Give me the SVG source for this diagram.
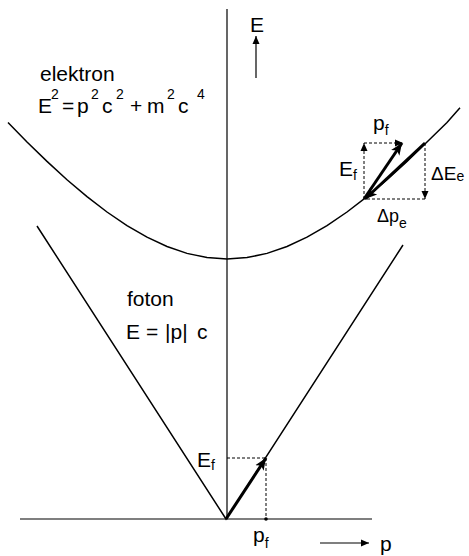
<svg xmlns="http://www.w3.org/2000/svg" width="469" height="556" viewBox="0 0 469 556">
<style>
text{font-family:"Liberation Sans",Arial,sans-serif;fill:#000}
.t{font-size:21px}
.s{font-size:14px}
.ax{stroke:#000;stroke-width:1.2;fill:none}
.cv{stroke:#000;stroke-width:1.5;fill:none}
.th{stroke:#000;stroke-width:3;fill:none}
.dt{stroke:#000;stroke-width:1;fill:none;stroke-dasharray:3 2}
</style>
<defs>
<marker id="ah" markerUnits="userSpaceOnUse" markerWidth="14" markerHeight="12" refX="12" refY="6" orient="auto">
<path d="M0,1 L12,6 L0,11 L3,6 Z" fill="#000"/>
</marker>
<marker id="as" markerUnits="userSpaceOnUse" markerWidth="10" markerHeight="8" refX="8" refY="4" orient="auto">
<path d="M0,0.5 L8,4 L0,7.5 Z" fill="#000"/>
</marker>
</defs>
<g id="axes">
<line class="ax" x1="227" y1="9" x2="227" y2="519"/>
<line class="ax" x1="20" y1="519" x2="372" y2="519"/>
<line class="ax" x1="256" y1="78" x2="256" y2="36" marker-end="url(#as)"/>
<line class="ax" x1="320" y1="543" x2="369" y2="543" marker-end="url(#as)"/>
<text id="lblE" class="t" x="250" y="32">E</text>
<text id="lblp" class="t" x="380" y="551">p</text>
</g>
<g id="electron">
<path class="cv" d="M8,122.6 L27,142 L47,161.4 L67,179.7 L87,196.6 L107,212 L127,225.6 L147,237.2 L167,246.5 L187,253.4 L207,257.6 L227,259 L247,257.6 L267,253.4 L287,246.5 L307,237.2 L327,225.6 L347,212 L367,196.6 L387,179.7 L407,161.4 L427,142 L447,122.6 L460,107.8"/>
<text class="t" x="40" y="81">elektron</text>
<text class="t" y="113"><tspan x="38">E</tspan><tspan class="s" x="51" y="99">2</tspan><tspan x="62" y="113">=</tspan><tspan x="77">p</tspan><tspan class="s" x="91" y="99">2</tspan><tspan x="102" y="113">c</tspan><tspan class="s" x="116" y="99">2</tspan><tspan x="130" y="113">+</tspan><tspan x="147">m</tspan><tspan class="s" x="167" y="99">2</tspan><tspan x="178" y="113">c</tspan><tspan class="s" x="197" y="99">4</tspan></text>
</g>
<g id="photon">
<polyline class="cv" points="37,226 226,519 403,245"/>
<text class="t" x="127" y="306">foton</text>
<text class="t" y="339"><tspan x="126">E</tspan><tspan x="146">=</tspan><tspan x="165">|p|</tspan><tspan x="197">c</tspan></text>
</g>
<g id="connectors">
<line class="th" x1="226" y1="519" x2="266" y2="458" marker-end="url(#ah)"/>
<line class="dt" x1="227" y1="458" x2="266" y2="458"/>
<line class="dt" x1="266" y1="458" x2="266" y2="519"/>
<circle cx="266" cy="519" r="1.8" fill="#000"/>
<line class="th" x1="364" y1="199" x2="402" y2="143" marker-end="url(#ah)"/>
<line class="th" x1="425" y1="143" x2="365" y2="199" marker-end="url(#ah)"/>
<line class="dt" x1="364" y1="199" x2="364" y2="143" marker-end="url(#as)"/>
<line class="dt" x1="364" y1="143" x2="403" y2="143" marker-end="url(#as)"/>
<line class="dt" x1="425" y1="143" x2="425" y2="199" marker-end="url(#as)"/>
<line class="dt" x1="425" y1="199" x2="366" y2="199"/>
</g>
<g id="labels">
<text class="t" x="197" y="467">E<tspan class="s" dy="3">f</tspan></text>
<text class="t" x="253" y="542">p<tspan class="s" dy="6">f</tspan></text>
<text class="t" x="373" y="130">p<tspan class="s" dy="5">f</tspan></text>
<text class="t" x="339" y="176">E<tspan class="s" dy="4">f</tspan></text>
<text style="font-size:19px" x="431" y="180">ΔE<tspan class="s" dy="1">e</tspan></text>
<text style="font-size:18px" x="377" y="222">Δp<tspan class="s" dy="6">e</tspan></text>
</g>
</svg>
